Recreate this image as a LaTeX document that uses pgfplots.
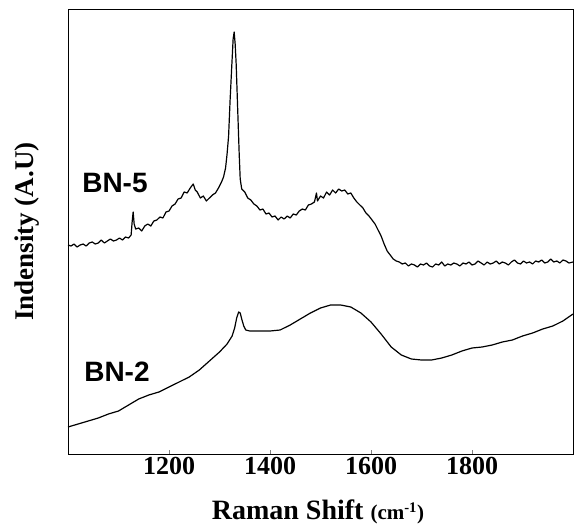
\documentclass[border=0pt]{standalone}
\usepackage{fontspec}
\setmainfont{Liberation Serif}
\newfontfamily\arialf{Liberation Sans}
\usepackage{pgfplots}
\pgfplotsset{compat=1.18}
\begin{document}
\begin{tikzpicture}
\begin{axis}[
  scale only axis, width=505pt, height=445pt,
  xmin=1000, xmax=2000, ymin=0, ymax=445,
  xtick={1200,1400,1600,1800}, ytick=\empty,
  xtick pos=left, tick align=inside, major tick length=4pt,
  axis line style={line width=0.8pt},
  /pgf/number format/assume math mode=true,
  /pgf/number format/1000 sep={},
  xticklabel style={font=\bfseries\fontsize{26}{26}\selectfont},
  xlabel={\bfseries\fontsize{28}{30}\selectfont Raman Shift {\fontsize{21}{21}\selectfont(cm\textsuperscript{-1})}},
  xlabel style={at={(axis description cs:0.495,-0.148)}, anchor=base},
  ylabel={\bfseries\fontsize{27}{27}\selectfont Indensity (A.U)},
  ylabel style={at={(axis description cs:-0.081,0.5)}, anchor=center},
  clip=false,
]
% BN-5
\addplot[black, line width=1.2pt, line join=round] coordinates {
(1000,209)(1006,208)(1012,210)(1018,207)(1024,209)(1030,210)(1036,208)(1042,211)(1048,212)(1054,210)
(1060,211)(1066,214)(1072,211)(1078,213)(1084,215)(1090,213)(1096,214)(1102,216)(1108,214)(1114,217)
(1120,216)(1125,219)(1127,232)(1129,242)(1131,230)(1134,225)(1140,226)(1146,223)(1152,228)(1158,230)
(1164,228)(1170,233)(1176,234)(1182,237)(1188,236)(1194,242)(1200,243)(1206,248)(1212,250)(1218,255)
(1224,256)(1230,262)(1236,261)(1242,266)(1248,270)(1252,264)(1256,262)(1262,256)(1268,258)(1274,253)
(1280,256)(1286,259)(1292,261)(1298,266)(1304,272)(1308,277)(1312,286)(1315,300)(1318,318)(1321,354)
(1324,385)(1327,415)(1329,422)(1331,410)(1333,390)(1335,360)(1337,330)(1339,300)(1341,275)(1344,265)
(1350,262)(1356,256)(1362,254)(1368,250)(1374,248)(1380,244)(1386,245)(1392,240)(1398,241)(1404,237)
(1410,238)(1416,234)(1422,237)(1428,235)(1434,238)(1440,236)(1446,240)(1452,239)(1458,243)(1464,245)
(1470,244)(1476,249)(1482,250)(1488,252)(1492,261)(1494,253)(1500,258)(1506,256)(1512,262)(1518,259)
(1524,264)(1530,261)(1536,265)(1542,263)(1548,264)(1554,260)(1560,261)(1566,256)(1572,252)(1578,249)
(1584,246)(1590,241)(1596,238)(1602,234)(1608,230)(1614,224)(1620,218)(1626,210)(1632,203)(1638,199)
(1644,195)(1650,193)(1656,192)(1662,190)(1668,191)(1674,188)(1680,190)(1686,189)(1692,187)(1698,190)
(1704,189)(1710,191)(1716,188)(1722,187)(1728,190)(1734,189)(1740,192)(1746,188)(1752,190)(1758,189)
(1764,191)(1770,190)(1776,188)(1782,191)(1788,190)(1794,192)(1800,189)(1806,190)(1812,193)(1818,191)
(1824,189)(1830,192)(1836,190)(1842,191)(1848,193)(1854,190)(1860,192)(1866,191)(1872,189)(1878,192)
(1884,194)(1890,191)(1896,190)(1902,193)(1908,191)(1914,192)(1920,190)(1926,193)(1932,192)(1938,194)
(1944,191)(1950,192)(1956,195)(1962,192)(1968,193)(1974,191)(1980,194)(1986,193)(1992,191)(2000,192)
};
% BN-2
\addplot[black, line width=1.2pt, line join=round] coordinates {
(1000,27)(1020,30)(1040,33)(1060,36)(1080,40)(1100,43)(1120,49)(1140,55)(1160,59)(1180,62)
(1200,67)(1220,72)(1240,77)(1260,84)(1280,93)(1300,102)(1315,110)(1325,118)(1330,126)(1334,136)
(1338,142)(1341,141)(1344,135)(1348,128)(1352,124)(1360,123)(1380,123)(1400,123)(1420,124)(1440,129)
(1460,135)(1480,141)(1500,146)(1520,149)(1540,149)(1560,147)(1580,141)(1600,132)(1620,120)(1640,107)
(1660,99)(1680,95)(1700,94)(1720,94)(1740,96)(1760,99)(1780,103)(1800,106)(1820,107)(1840,109)
(1860,112)(1880,114)(1900,118)(1920,121)(1940,125)(1960,128)(1980,133)(2000,140)
};
\node[font=\arialf\bfseries\fontsize{28}{28}\selectfont, anchor=center] at (axis cs:1093,271) {BN-5};
\node[font=\arialf\bfseries\fontsize{28}{28}\selectfont, anchor=center] at (axis cs:1097,82) {BN-2};
\end{axis}
\pgfresetboundingbox
\path ([shift={(-68pt,-74pt)}]current axis.south west) rectangle ([shift={(4pt,9pt)}]current axis.north east);
\end{tikzpicture}
\end{document}
